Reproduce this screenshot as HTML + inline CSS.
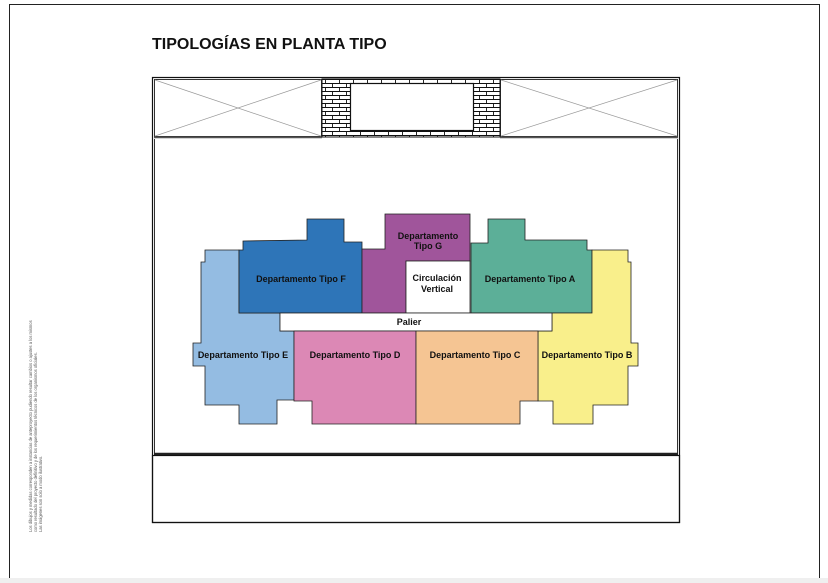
<!DOCTYPE html>
<html><head><meta charset="utf-8"><style>
html,body{margin:0;padding:0;background:#fff;}
svg{display:block;}
text{font-family:"Liberation Sans",Arial,sans-serif;}
</style></head><body>
<svg width="828" height="583" viewBox="0 0 828 583" xmlns="http://www.w3.org/2000/svg">
<defs>
<pattern id="brick" x="322" y="79" width="14" height="8" patternUnits="userSpaceOnUse">
<rect width="14" height="8" fill="#fff"/>
<path d="M0 0.5H14M0 4.5H14M3.5 0.5V4.5M10.5 4.5V8.5" stroke="#111" stroke-width="0.9" fill="none"/>
</pattern>
</defs>
<rect width="828" height="583" fill="#fff"/>
<path d="M9.5 583V4.5H819.5V583" fill="none" stroke="#222" stroke-width="1"/>
<rect x="0" y="578" width="828" height="5" fill="#efefef"/>
<text x="152" y="49" font-size="16" font-weight="bold" fill="#111">TIPOLOGÍAS EN PLANTA TIPO</text>

<rect x="152.5" y="77.5" width="527" height="445" fill="#fff" stroke="#111" stroke-width="1.2"/>
<rect x="154.5" y="79.5" width="167" height="57" fill="#fff" stroke="#333" stroke-width="1"/>
<line x1="155" y1="80" x2="321" y2="136" stroke="#999" stroke-width="0.7"/>
<line x1="321" y1="80" x2="155" y2="136" stroke="#999" stroke-width="0.7"/>
<rect x="500.5" y="79.5" width="177" height="57" fill="#fff" stroke="#333" stroke-width="1"/>
<line x1="501" y1="80" x2="677" y2="136" stroke="#999" stroke-width="0.7"/>
<line x1="677" y1="80" x2="501" y2="136" stroke="#999" stroke-width="0.7"/>
<rect x="322" y="79" width="178" height="58" fill="url(#brick)" stroke="#111" stroke-width="1"/>
<rect x="350.5" y="83.5" width="123" height="47" fill="#fff" stroke="#111" stroke-width="1.2"/>
<line x1="154" y1="137.5" x2="322" y2="137.5" stroke="#555" stroke-width="1.5"/>
<line x1="500" y1="137.5" x2="678" y2="137.5" stroke="#555" stroke-width="1.5"/>
<path d="M154.5 139V453M677.5 139V453" stroke="#333" stroke-width="1"/>
<line x1="154" y1="454" x2="678" y2="454" stroke="#222" stroke-width="2.5"/>

<g stroke="#222" stroke-width="0.8">
<polygon fill="#94bce2" points="205,250 239,250 239,313 280,313 280,331 294,331 294,400 277,400 277,424 239,424 239,405 205,405 205,366 193,366 193,343 201,343 201,262 205,262"/>
<polygon fill="#2e75b8" points="243,241 307,240 307,219 344,219 344,242 362,242 362,313 239,313 239,250 243,250"/>
<polygon fill="#a0559b" points="385,214 470,214 470,261 406,261 406,313 362,313 362,249 385,249"/>
<rect x="406" y="261" width="64" height="52" fill="#fff"/>
<polygon fill="#5caf98" points="471,243 488,243 488,219 525,219 525,240 587,240 587,250 592,250 592,313 471,313"/>
<polygon fill="#f9ef8b" points="592,250 628,250 628,262 631,262 631,343 638,343 638,366 628,366 628,405 593,405 593,424 553,424 553,401 538,401 538,331 552,331 552,313 592,313"/>
<rect x="280" y="313" width="272" height="18" fill="#fff"/>
<polygon fill="#dc88b5" points="294,331 416,331 416,424 312,424 312,401 294,401"/>
<polygon fill="#f5c593" points="416,331 538,331 538,401 520,401 520,424 416,424"/>
</g>
<g font-size="9" font-weight="bold" fill="#111" text-anchor="middle">
<text x="301" y="282">Departamento Tipo F</text>
<text x="428" y="239">Departamento</text>
<text x="428" y="249">Tipo G</text>
<text x="437" y="281">Circulación</text>
<text x="437" y="292">Vertical</text>
<text x="530" y="282">Departamento Tipo A</text>
<text x="409" y="325">Palier</text>
<text x="243" y="358">Departamento Tipo E</text>
<text x="355" y="358">Departamento Tipo D</text>
<text x="475" y="358">Departamento Tipo C</text>
<text x="587" y="358">Departamento Tipo B</text>
</g>
<rect x="152.5" y="455.5" width="527" height="67" fill="none" stroke="#111" stroke-width="1.2"/>

<g font-size="4.1" fill="#555" transform="translate(32,532) rotate(-90)">
<text x="0" y="0">Los dibujos y medidas corresponden a instancias de anteproyecto pudiendo resultar cambios o ajustes a los mismos</text>
<text x="0" y="5">como resultado del proyecto definitivo y de los requerimientos técnicos de los organismos oficiales.</text>
<text x="0" y="10">Las imágenes son solo a modo ilustrativo.</text>
</g>
</svg>
</body></html>
